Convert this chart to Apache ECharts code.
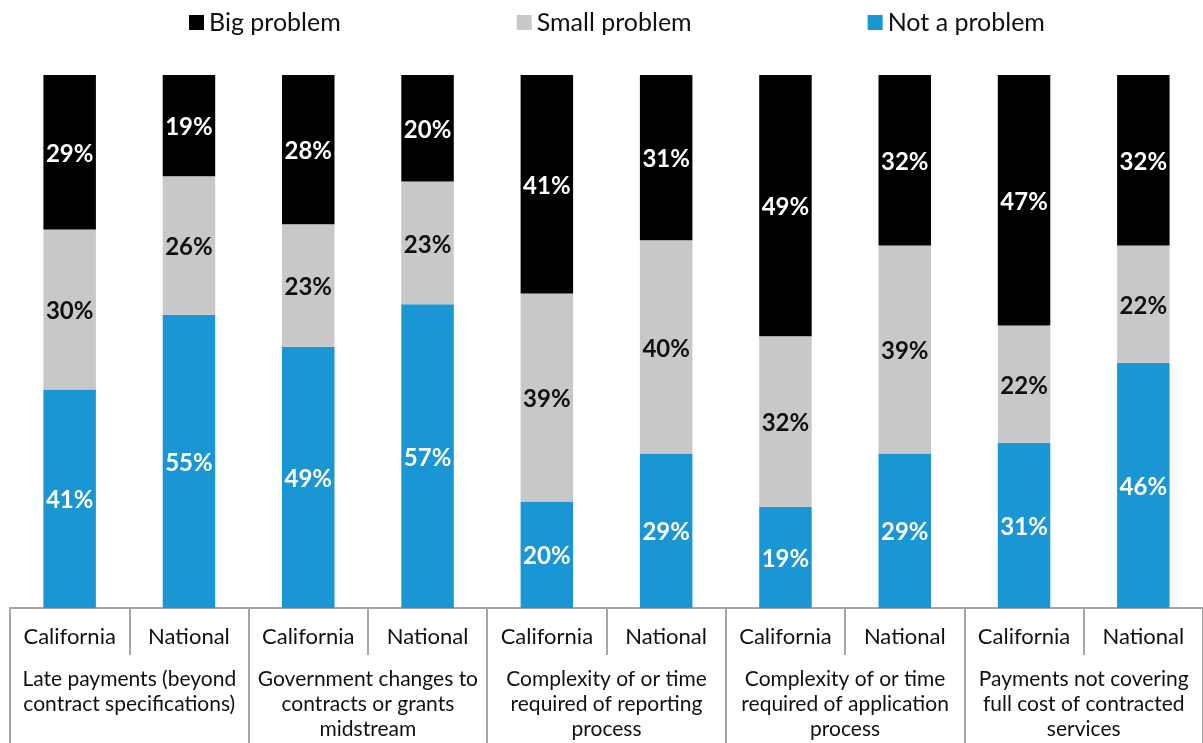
<!DOCTYPE html>
<html>
<head>
<meta charset="utf-8">
<script src="https://cdn.jsdelivr.net/npm/echarts@6/dist/echarts.min.js"></script>
<style>
  html, body { margin: 0; padding: 0; background: #fff; }
  #chart { width: 1203px; height: 743px; }
</style>
</head>
<body>
<div id="chart"></div>
<script>
// leaf categories (one bar each)
const regions = [
  "California", "National", "California", "National", "California",
  "National", "California", "National", "California", "National"
];

// group labels under each pair of bars
const issues = [
  "Late payments (beyond\ncontract specifications)",
  "Government changes to\ncontracts or grants\nmidstream",
  "Complexity of or time\nrequired of reporting\nprocess",
  "Complexity of or time\nrequired of application\nprocess",
  "Payments not covering\nfull cost of contracted\nservices"
];

// percentages
const bigProblem   = [29, 19, 28, 20, 41, 31, 49, 32, 47, 32];
const smallProblem = [30, 26, 23, 23, 39, 40, 32, 39, 22, 22];
const notProblem   = [41, 55, 49, 57, 20, 29, 19, 29, 31, 46];

const FONT = "Lato";
const AXIS_GRAY = "#a6a6a6";

const chart = echarts.init(document.getElementById("chart"));

function barSeries(name, data, color, labelColor) {
  return {
    name,
    type: "bar",
    stack: "total",
    barWidth: "44%",
    data,
    itemStyle: { color },
    label: {
      show: true,
      position: "inside",
      offset: [0, 2],
      formatter: "{c}%",
      color: labelColor,
      fontFamily: FONT,
      fontWeight: "bold",
      fontSize: 24
    }
  };
}

const option = {
  animation: false,
  textStyle: { fontFamily: FONT },
  legend: {
    top: 5,
    left: 184,
    itemGap: 176,
    itemWidth: 15,
    itemHeight: 15,
    icon: "rect",
    textStyle: { fontSize: 25, color: "#111", fontFamily: FONT },
    data: ["Big problem", "Small problem", "Not a problem"]
  },
  grid: { left: 10, right: 0, top: 75, bottom: 135 },
  xAxis: [
    {
      type: "category",
      data: regions,
      axisLine: { lineStyle: { color: AXIS_GRAY, width: 2 } },
      axisTick: { show: true, interval: 0, length: 47, lineStyle: { color: AXIS_GRAY, width: 2 } },
      axisLabel: {
        interval: 0,
        margin: 16,
        fontSize: 22,
        lineHeight: 26,
        color: "#111",
        fontFamily: FONT
      }
    },
    {
      type: "category",
      position: "bottom",
      data: issues,
      axisLine: { show: false },
      axisTick: { show: true, interval: 0, length: 135, lineStyle: { color: AXIS_GRAY, width: 2 } },
      axisLabel: {
        interval: 0,
        margin: 59,
        fontSize: 21,
        lineHeight: 25,
        color: "#111",
        fontFamily: FONT
      }
    }
  ],
  yAxis: {
    type: "value",
    min: 0,
    max: 100,
    show: false
  },
  series: [
    barSeries("Not a problem", notProblem, "#1996d3", "#fff"),
    barSeries("Small problem", smallProblem, "#c8c8c8", "#111"),
    barSeries("Big problem", bigProblem, "#000000", "#fff")
  ]
};

chart.setOption(option);
</script>
</body>
</html>
